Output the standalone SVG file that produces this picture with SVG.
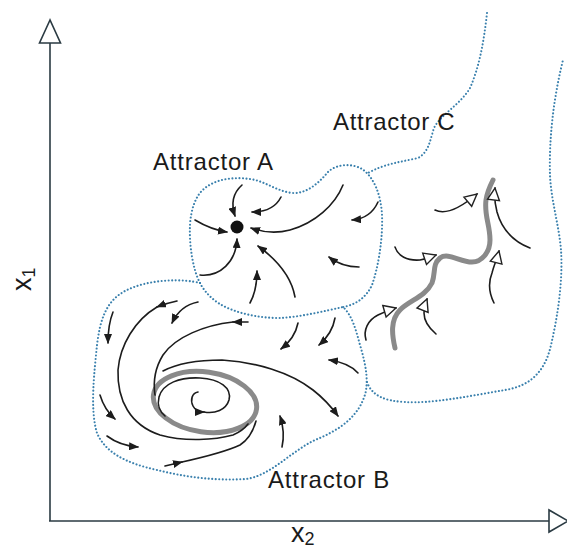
<svg xmlns="http://www.w3.org/2000/svg" width="567" height="548" viewBox="0 0 567 548">
<style>
.ax{stroke:#2a3a42;stroke-width:1.6;fill:none}
.axh{stroke:#2a3a42;stroke-width:1.6;fill:#fff;stroke-linejoin:miter}
.bd{stroke:#3a80ad;stroke-width:2.1;fill:none;stroke-dasharray:0.01 3.5;stroke-linecap:round}
.fl{stroke:#1c1c1c;stroke-width:1.6;fill:none;stroke-linecap:round}
.fa{marker-end:url(#af)}
.fh{marker-end:url(#ah)}
.gr{stroke:#8a8a8a;stroke-width:5;fill:none;stroke-linecap:round;stroke-linejoin:round}
.lb{font-family:"Liberation Sans",Arial,Helvetica,sans-serif;font-size:24px;fill:#1a1a1a;letter-spacing:0.8px}
.axl{font-family:"Liberation Sans",Arial,Helvetica,sans-serif;fill:#1a1a1a}
</style>
<defs>
<marker id="af" viewBox="0 0 10 8" refX="9" refY="4" markerWidth="10" markerHeight="8" markerUnits="userSpaceOnUse" orient="auto">
<path d="M0,0 L10,4 L0,8 Z" fill="#1c1c1c"/>
</marker>
<marker id="ah" viewBox="0 0 15 15" refX="13.5" refY="7.5" markerWidth="15" markerHeight="15" markerUnits="userSpaceOnUse" orient="auto">
<path d="M1.5,1.5 L13.5,7.5 L1.5,13.5 Z" fill="#fff" stroke="#222" stroke-width="1.4" stroke-linejoin="miter"/>
</marker>
</defs>
<rect width="567" height="548" fill="#fff"/>

<g id="axes">
<line class="ax" x1="50" y1="43" x2="50" y2="521"/>
<line class="ax" x1="49" y1="521" x2="549" y2="521"/>
<polygon class="axh" points="50,20 39.5,43 60.5,43"/>
<polygon class="axh" points="568,521 549,510 549,532"/>
<text class="axl" font-size="27" transform="translate(31,291) rotate(-90)">x<tspan font-size="18" dy="4">1</tspan></text>
<text class="axl" font-size="27" x="291" y="542">x<tspan font-size="18" dy="3">2</tspan></text>
</g>

<g id="boundaries">
<path class="bd" d="M200,283 C193,270 189,245 190,225 C191,208 196,195 205,188 C218,178 235,177 250,179 C265,181 276,191 292,193 C306,194 318,184 328,172 C336,164 352,163 362,169 C374,177 381,195 382,215 C383,240 378,268 372,285 C366,298 355,305 343,307"/>
<path class="bd" d="M200,283 C205,293 215,303 230,309 C245,315 262,318 280,318 C300,317 325,311 343,307"/>
<path class="bd" d="M200,283 C185,279 150,278 125,291 C106,301 100,320 97,345 C94,375 90,410 97,433 C105,452 125,463 157,470 C185,477 215,481 246,479 C270,476 290,452 315,440 C335,432 355,420 363,400 C370,385 366,365 360,345 C356,330 352,315 343,307"/>
<path class="bd" d="M487,13 C484,40 480,65 470,88 C460,105 440,115 434,128 C430,140 429,152 418,158 C400,162 384,164 368,173"/>
<path class="bd" d="M367,382 C372,396 385,401 405,402 C430,404 470,396 505,390 C530,386 545,372 551,345 C558,315 563,280 561,250 C559,225 551,200 550,175 C549,140 553,100 563,60"/>
</g>

<g id="attractor-a">
<circle cx="237" cy="227" r="6.5" fill="#111"/>
<path class="fl fa" d="M242,185 C233,193 231,204 235,216"/>
<path class="fl fa" d="M281,197 C276,207 266,212 252,212"/>
<path class="fl fa" d="M195,220 C205,226 214,230 227,232"/>
<path class="fl fa" d="M200,275 C220,277 236,262 237,239"/>
<path class="fl fa" d="M343,185 C335,205 315,223 290,230 C275,234 262,232 251,228"/>
<path class="fl fa" d="M295,297 C292,280 280,262 258,246"/>
<path class="fl fa" d="M250,303 C255,294 257,285 257,271"/>
<path class="fl fa" d="M378,202 C373,213 365,219 352,220"/>
<path class="fl fa" d="M359,267 C348,267 338,264 329,257"/>
</g>

<g id="attractor-b">
<ellipse class="gr" cx="205" cy="402" rx="52" ry="30" transform="rotate(8 205 402)"/>
<path class="fl fa" d="M177,301 Q167,303 157,307"/>
<path class="fl" d="M157,307 C135,320 120,345 118,370 C117,400 130,425 160,435 C185,442 215,440 233,435 C240,432 245,428 248,424"/>
<path class="fl fa" d="M198,302 C188,304 178,310 172,323"/>
<path class="fl fa" d="M248,322 L233,322"/>
<path class="fl" d="M233,322 C205,325 175,337 163,355 C155,368 153,382 155,395"/>
<path class="fl fa" d="M163,371 C180,362 205,360 222,360 C255,362 290,372 313,390 C322,397 330,405 338,416"/>
<path class="fl fa" d="M198,392 C192,393 190,400 193,406 C195,410 198,412 204,412"/>
<path class="fl" d="M204,412 C215,414 226,410 229,400 C232,388 220,379 200,378 C180,377 163,383 159,397 C157,405 160,412 165,416"/>
<path class="fl fa" d="M113,312 C109,322 108,332 108,343"/>
<path class="fl fa" d="M100,395 C103,405 107,412 115,419"/>
<path class="fl fa" d="M107,436 C115,442 124,446 138,447"/>
<path class="fl fa" d="M165,466 L182,462"/>
<path class="fl" d="M182,462 C200,458 225,452 240,445 C248,440 253,432 256,421"/>
<path class="fl fa" d="M282,447 C284,438 284,428 280,416"/>
<path class="fl fa" d="M298,323 C296,333 290,342 281,349"/>
<path class="fl fa" d="M335,318 C333,330 327,338 319,345"/>
<path class="fl fa" d="M358,373 C352,366 343,362 329,360"/>
</g>

<g id="attractor-c">
<path class="gr" d="M395,348 C392,335 390,320 400,310 C410,300 425,297 432,283 C436,272 432,265 440,258 C448,252 460,262 472,262 C482,262 490,252 490,240 C490,225 484,215 486,200 C487,192 490,186 493,180"/>
<path class="fl fh" d="M435,210 C445,215 458,210 477,194"/>
<path class="fl fh" d="M530,248 C515,242 502,230 497,212 C495,204 494,196 495,188"/>
<path class="fl fh" d="M395,247 C398,256 407,261 420,260 C426,259 430,257 436,255"/>
<path class="fl fh" d="M494,303 C489,293 488,283 492,273 C494,265 497,259 499,251"/>
<path class="fl fh" d="M366,340 C363,330 368,320 378,315 C384,312 389,310 396,308"/>
<path class="fl fh" d="M436,334 C429,328 424,320 424,313 C424,308 425,304 427,299"/>
</g>

<g id="labels">
<text class="lb" x="153" y="170">Attractor A</text>
<text class="lb" x="333" y="130" style="letter-spacing:0.7px">Attractor C</text>
<text class="lb" x="268" y="488">Attractor B</text>
</g>
</svg>
